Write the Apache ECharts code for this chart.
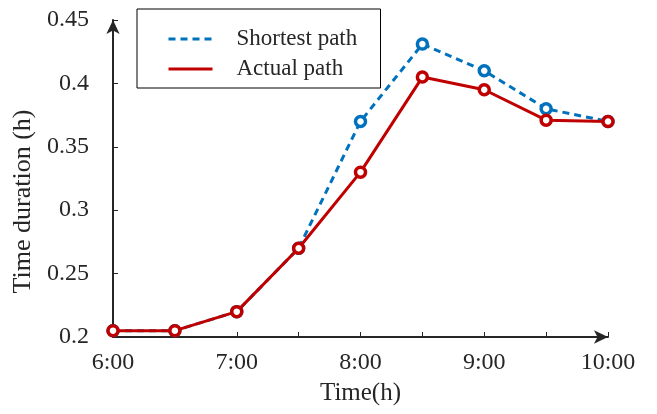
<!DOCTYPE html>
<html>
<head>
<meta charset="utf-8">
<script src="https://cdn.jsdelivr.net/npm/echarts@6/dist/echarts.min.js"></script>
<style>
html,body{margin:0;padding:0;background:#fff;}
#chart{width:657px;height:414px;}
</style>
</head>
<body>
<div id="chart"></div>
<script>
var categories = ['6:00','6:30','7:00','7:30','8:00','8:30','9:00','9:30','10:00'];
var shortestPath = [0.205, 0.205, 0.22, 0.27, 0.37, 0.431, 0.41, 0.38, 0.37];
var actualPath = [0.205, 0.205, 0.22, 0.27, 0.33, 0.405, 0.395, 0.371, 0.37];
var seriesNames = ['Shortest path', 'Actual path'];
var yTicks = {min: 0.2, max: 0.45, step: 0.05};

var FONT = 'Liberation Serif';
var AXIS = '#262626';
var chart = echarts.init(document.getElementById('chart'), null, {renderer: 'canvas'});
chart.setOption({
  animation: false,
  backgroundColor: '#fff',
  textStyle: {fontFamily: FONT},
  grid: {left: 113, right: 49, top: 20, bottom: 77, containLabel: false},
  legend: {
    orient: 'vertical',
    left: 137, top: 9,
    data: seriesNames,
    backgroundColor: '#fff',
    borderColor: '#000', borderWidth: 1, borderRadius: 0,
    padding: [18, 23, 7, 30],
    itemWidth: 44, itemHeight: 14, itemGap: 6,
    itemStyle: {opacity: 0},
    lineStyle: {width: 3},
    textStyle: {fontFamily: FONT, fontSize: 23, color: '#262626', lineHeight: 24, padding: [0, 0, 0, 19], width: 121}
  },
  xAxis: {
    type: 'category',
    data: categories,
    boundaryGap: false,
    name: 'Time(h)', nameLocation: 'middle', nameGap: 44,
    nameTextStyle: {fontFamily: FONT, fontSize: 25, color: '#262626'},
    axisLine: {show: true, lineStyle: {color: AXIS, width: 2}, symbol: ['none', 'arrow'], symbolSize: [10, 14]},
    axisTick: {show: true, inside: true, length: 5, interval: 0, lineStyle: {color: AXIS, width: 1}},
    axisLabel: {interval: 1, margin: 14, fontFamily: FONT, fontSize: 24, color: '#262626'},
    splitLine: {show: false}
  },
  yAxis: {
    type: 'value',
    min: yTicks.min, max: yTicks.max, interval: yTicks.step,
    name: 'Time duration (h)', nameLocation: 'middle', nameGap: 76,
    nameTextStyle: {fontFamily: FONT, fontSize: 26, color: '#262626', padding: [0, 46, 0, 0]},
    axisLine: {show: true, lineStyle: {color: AXIS, width: 2}, symbol: ['none', 'arrow'], symbolSize: [10, 14]},
    axisTick: {show: true, inside: true, length: 5, lineStyle: {color: AXIS, width: 1}},
    axisLabel: {margin: 24, fontFamily: FONT, fontSize: 24, color: '#262626', padding: [5, 0, 0, 0]},
    splitLine: {show: false}
  },
  series: [
    {
      name: seriesNames[0], type: 'line', data: shortestPath,
      symbol: 'circle', symbolSize: 10,
      lineStyle: {color: '#0072BD', width: 3, type: [7, 5]},
      itemStyle: {color: '#ffffff', borderColor: '#0072BD', borderWidth: 3.5},
      z: 2
    },
    {
      name: seriesNames[1], type: 'line', data: actualPath,
      symbol: 'circle', symbolSize: 10,
      lineStyle: {color: '#C00000', width: 3},
      itemStyle: {color: '#ffffff', borderColor: '#C00000', borderWidth: 3.5},
      z: 3
    }
  ]
});
</script>
</body>
</html>
